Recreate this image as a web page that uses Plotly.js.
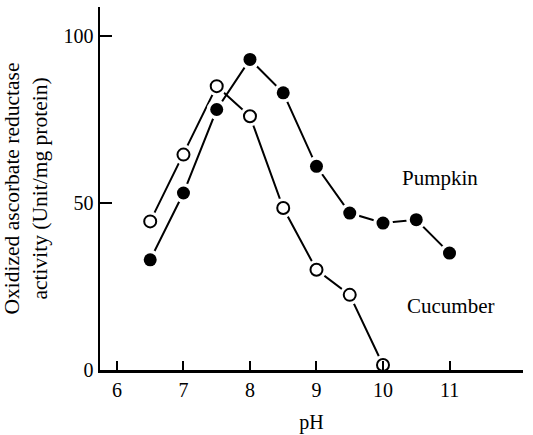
<!DOCTYPE html>
<html>
<head>
<meta charset="utf-8">
<script src="https://cdn.plot.ly/plotly-3.0.1.min.js"></script>
<style>html,body{margin:0;padding:0;background:#fff;}#chart{width:533px;height:435px;}</style>
</head>
<body>
<div id="chart"></div>
<script>
const pumpkinPH = [6.5, 7, 7.5, 8, 8.5, 9, 9.5, 10, 10.5, 11];
const pumpkinActivity = [33, 53, 78, 93, 83, 61, 47, 44, 45, 35];
const cucumberPH = [6.5, 7, 7.5, 8, 8.5, 9, 9.5, 10];
const cucumberActivity = [44.5, 64.5, 85, 76, 48.5, 30, 22.5, 1.5];
const xTicks = [6, 7, 8, 9, 10, 11];
const yTicks = [0, 50, 100];
const seriesLabels = ["Pumpkin", "Cucumber"];

const FONT = "Liberation Serif, Times New Roman, serif";

const traces = [
  {x: cucumberPH, y: cucumberActivity, mode: "lines", line: {color: "#000", width: 2}, hoverinfo: "skip"},
  {x: pumpkinPH, y: pumpkinActivity, mode: "lines", line: {color: "#000", width: 2}, hoverinfo: "skip"},
  {x: cucumberPH, y: cucumberActivity, mode: "markers", marker: {size: 20, color: "#fff", line: {width: 0}}, hoverinfo: "skip"},
  {x: pumpkinPH, y: pumpkinActivity, mode: "markers", marker: {size: 20, color: "#fff", line: {width: 0}}, hoverinfo: "skip"},
  {x: cucumberPH, y: cucumberActivity, mode: "markers", name: seriesLabels[1],
   marker: {size: 12, color: "#fff", line: {color: "#000", width: 2}}},
  {x: pumpkinPH, y: pumpkinActivity, mode: "markers", name: seriesLabels[0],
   marker: {size: 13, color: "#000", line: {color: "#000", width: 0}}}
];

const layout = {
  width: 533, height: 435,
  margin: {l: 100, r: 10, t: 7, b: 65},
  paper_bgcolor: "#fff", plot_bgcolor: "#fff",
  showlegend: false,
  font: {family: FONT, size: 20, color: "#000"},
  xaxis: {
    range: [5.745, 12.105], showgrid: false, zeroline: false,
    showline: true, linecolor: "#000", linewidth: 2.5,
    ticks: "inside", ticklen: 9, tickwidth: 2, tickcolor: "#000",
    tickvals: xTicks, ticktext: xTicks.map(String),
    tickfont: {family: FONT, size: 20},
    title: {text: "pH", font: {family: FONT, size: 20}, standoff: 16}
  },
  yaxis: {
    range: [0, 108.7], showgrid: false, zeroline: false,
    showline: true, linecolor: "#000", linewidth: 2.5,
    ticks: "inside", ticklen: 12, tickwidth: 2, tickcolor: "#000",
    tickvals: yTicks, ticktext: yTicks.map(String),
    tickfont: {family: FONT, size: 20},
    title: {text: "Oxidized ascorbate reductase<br>activity (Unit/mg protein)", font: {family: FONT, size: 21.5}, standoff: 12}
  },
  annotations: [
    {x: 10.86, y: 57.5, xref: "x", yref: "y", text: seriesLabels[0], showarrow: false, font: {family: FONT, size: 21}},
    {x: 11.01, y: 19.2, xref: "x", yref: "y", text: seriesLabels[1], showarrow: false, font: {family: FONT, size: 21}}
  ]
};

Plotly.newPlot("chart", traces, layout, {staticPlot: true, displayModeBar: false});
</script>
</body>
</html>
